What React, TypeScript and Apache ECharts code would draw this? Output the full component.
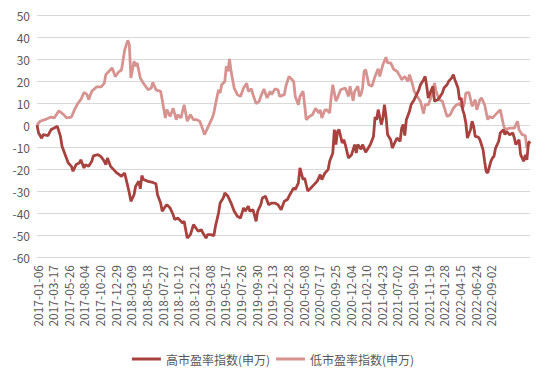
import React, { useEffect, useRef } from "react";
import * as echarts from "echarts";

const tickLabels = [
  "2017-01-06", "2017-03-17", "2017-05-26", "2017-08-04", "2017-10-20", "2017-12-29",
  "2018-03-09", "2018-05-18", "2018-07-27", "2018-10-12", "2018-12-21", "2019-03-08",
  "2019-05-17", "2019-07-26", "2019-09-30", "2019-12-13", "2020-02-28", "2020-05-08",
  "2020-07-17", "2020-09-25", "2020-12-04", "2021-02-10", "2021-04-23", "2021-07-02",
  "2021-09-10", "2021-11-19", "2022-01-28", "2022-04-15", "2022-06-24", "2022-09-02",
];
const weeksAfterLastTick = 25;

const seriesNames = ["高市盈率指数(申万)", "低市盈率指数(申万)"];

// [week index, value]
const highPts: [number, number][] = [
  [0, 0], [1, -3.6], [3, -6], [4, -4.4], [7, -4.8], [9, -2.1], [11, -1.4], [13, -0.6], [14, -2.9], [15, -5.2],
  [16, -9.7], [18, -13.5], [20, -17.3], [22, -18.8], [23, -21], [25, -18], [27, -17.3], [28, -15.8], [30, -19.5], [31, -18],
  [33, -18.8], [35, -16.5], [36, -14], [39, -13.5], [41, -14.5], [43, -16.5], [44, -18], [45, -15], [47, -18.8], [49, -20.3],
  [51, -21.8], [54, -23.3], [56, -21.8], [57, -24.8], [59, -30.9], [60, -34.7], [62, -31.7], [63, -27.9], [65, -25.6], [66, -29],
  [67, -23], [68, -24.8], [71, -25.6], [74, -26.1], [76, -26.7], [77, -31.7], [79, -35.5], [80, -39.2], [82, -37], [83, -36.2],
  [85, -37.7], [87, -40.8], [88, -43], [90, -42.3], [92, -43.8], [93, -44.5], [94, -43.8], [96, -51.4], [98, -49.8], [99, -47.6],
  [100, -45.3], [103, -48.3], [105, -47.6], [106, -49.1], [108, -51.4], [109, -49.8], [111, -49.8], [113, -50.3], [114, -46.1], [116, -40],
  [117, -35.5], [119, -33.2], [120, -30.9], [122, -32.4], [124, -35.5], [126, -39.2], [128, -41.5], [130, -42.3], [132, -37.7], [133, -39.2],
  [135, -36.9], [136, -39.2], [138, -38.5], [140, -43.8], [141, -39.2], [143, -36.2], [144, -33.2], [146, -32.4], [148, -36.2], [150, -35.5],
  [152, -35.5], [154, -36.2], [156, -38.5], [158, -34.7], [160, -33.9], [161, -32.4], [164, -28.6], [165, -29.4], [167, -26.4], [168, -19.5],
  [170, -24.8], [171, -24.1], [173, -30], [175, -28.6], [177, -27.1], [179, -25.6], [181, -22.6], [182, -24.8], [184, -21.8], [186, -20.3],
  [187, -16.5], [189, -12.7], [190, -2.1], [191, -8.9], [192, -2.9], [193, -2.1], [195, -8.2], [196, -6.7], [197, -8.9], [199, -15],
  [201, -13.5], [203, -8.9], [204, -12.7], [205, -8.9], [207, -11], [208, -8.9], [210, -12.4], [211, -11.2], [213, -8.9], [215, -5.2],
  [216, 3.6], [217, 2.4], [218, 7], [220, 0.2], [221, 3.2], [222, 9.2], [223, 3.9], [224, -4.4], [226, -6.7], [227, -10.5],
  [229, -7.4], [230, -5.9], [232, -7.4], [233, -1.4], [234, 0.2], [235, -4.8], [236, 2.4], [238, 6.2], [239, 9.2], [241, 11.5],
  [242, 13], [244, 16], [245, 18.3], [247, 20.6], [248, 22.1], [249, 17.6], [250, 12.3], [252, 16], [253, 17.6], [254, 10.8],
  [256, 11.5], [257, 12.3], [259, 14.5], [260, 16.8], [262, 18.3], [263, 19.8], [265, 21.4], [266, 22.9], [267, 20.6], [269, 16.8],
  [270, 11.5], [271, 12.3], [272, 6.9], [273, 4.7], [274, 0.9], [275, -5.9], [277, -2.1], [278, 1.7], [279, -0.6], [280, -5.2],
  [282, -5.5], [283, -6.7], [285, -11.2], [286, -16.5], [287, -21.1], [288, -21.8], [290, -16.5], [291, -15], [292, -14.2], [293, -10.5],
  [295, -7.4], [296, -3.6], [298, -2.1], [299, -4.4], [300, -2.9], [302, -4.4], [304, -3.6], [305, -5.9], [306, -8.9], [308, -6.7],
  [309, -13.5], [311, -16.5], [312, -13.5], [313, -15.8], [314, -8.2], [315, -7.4],
];

const lowPts: [number, number][] = [
  [0, 0], [2, 1.7], [6, 2.7], [9, 3.6], [11, 3.2], [14, 6.5], [17, 4.7], [19, 3.2], [22, 3.6], [24, 7],
  [26, 9.7], [28, 11.5], [30, 14.8], [32, 13.8], [33, 11.5], [35, 15.3], [38, 17.3], [41, 17.3], [43, 19], [44, 22.9],
  [46, 24.4], [48, 25.9], [50, 22], [52, 24], [54, 25], [56, 34], [58, 38.5], [59, 36.5], [60, 21.4], [62, 29],
  [63, 26.7], [64, 28.2], [66, 21.4], [68, 19], [71, 16], [73, 16.8], [74, 19.4], [76, 16], [79, 15.3], [80, 11.5],
  [82, 3.2], [83, 7], [85, 3.9], [87, 7.6], [89, 2.4], [90, 4.7], [92, 3.2], [94, 9.2], [96, 1.7], [98, 4.7],
  [100, 2.4], [102, 2.4], [104, 1.7], [106, -2.1], [107, -4.4], [108, -2.9], [110, 0.2], [112, 3.2], [113, 5.5], [114, 9.2],
  [116, 16], [117, 14.5], [118, 18.3], [120, 19.8], [121, 26.7], [122, 24.4], [123, 30], [124, 24.4], [125, 20.6], [126, 16.8],
  [128, 13.8], [130, 13], [132, 16.8], [134, 19], [135, 15.3], [137, 16.4], [138, 13.8], [140, 9.7], [142, 10.8], [143, 13],
  [145, 16.4], [147, 12.3], [149, 15.3], [150, 13.8], [152, 16.4], [154, 16], [155, 13], [158, 13.8], [159, 17.6], [161, 22.1],
  [164, 19.8], [165, 13], [167, 9.2], [168, 13], [170, 15.3], [171, 9.2], [172, 2.4], [174, 3.9], [176, 4.7], [178, 7.6],
  [180, 5.5], [181, 6.9], [182, 3.2], [184, 6.9], [185, 6.9], [187, 5.5], [188, 13], [189, 18.3], [191, 10.8], [192, 12.3],
  [194, 16], [197, 16.8], [199, 13], [200, 17.6], [202, 11], [203, 15.3], [205, 17.6], [206, 13], [207, 13.8], [208, 16.8],
  [209, 24.4], [210, 25.2], [212, 18.3], [214, 17.6], [216, 22.1], [218, 25.5], [219, 22.1], [221, 27.4], [223, 30.8], [224, 28.2],
  [226, 28.2], [228, 25.2], [230, 24.4], [232, 22.1], [233, 20.6], [235, 22.1], [237, 19.8], [238, 22.9], [240, 18.3], [241, 15.3],
  [243, 13], [245, 10.8], [247, 5.2], [248, 9.2], [250, 9.2], [252, 13], [254, 19.1], [255, 15.3], [257, 11.5], [259, 10.8],
  [261, 6.2], [262, 3.9], [264, 4.7], [266, 7.6], [268, 9.2], [270, 9.7], [272, 7.6], [273, 9.7], [274, 14.5], [276, 14.8],
  [278, 8.5], [280, 11.5], [281, 6.9], [283, 11.5], [284, 12.3], [286, 9.2], [288, 2.4], [289, 3.9], [291, 3.2], [293, 4.7],
  [294, 5.5], [296, 6.9], [298, 0.2], [299, -2.1], [302, -1.4], [304, -1.4], [305, -1.4], [307, 1.7], [308, -2.1], [310, -4.4],
  [312, -4.8], [313, -10.5], [314, -9], [315, -7.6],
];

function buildCategories(): string[] {
  const out: string[] = [];
  tickLabels.forEach((t, k) => {
    const last = k === tickLabels.length - 1;
    const n = last ? weeksAfterLastTick + 1 : 10;
    const base = Date.UTC(+t.slice(0, 4), +t.slice(5, 7) - 1, +t.slice(8, 10));
    for (let j = 0; j < n; j++) {
      out.push(j === 0 ? t : new Date(base + j * 7 * 86400000).toISOString().slice(0, 10));
    }
  });
  return out;
}

const highColor = "#A8423F";
const lowColor = "#D69390";

export default function App() {
  const ref = useRef<HTMLDivElement>(null);
  useEffect(() => {
    if (!ref.current) return;
    const chart = echarts.init(ref.current, null, { renderer: "svg" });
    const categories = buildCategories();
    const tickSet = new Set(tickLabels);
    const font = "'Noto Sans CJK SC', 'Noto Sans', sans-serif";
    chart.setOption({
      animation: false,
      backgroundColor: "#ffffff",
      textStyle: { fontFamily: font },
      grid: { left: 37, right: 16, top: 15, bottom: 123, containLabel: false, outerBoundsMode: "none" },
      legend: {
        left: "center",
        top: 348,
        icon: "rect",
        itemWidth: 29,
        itemHeight: 3,
        itemGap: 6,
        textStyle: { color: "#595959", fontSize: 12, fontFamily: font },
        data: [
          { name: seriesNames[0], itemStyle: { color: highColor } },
          { name: seriesNames[1], itemStyle: { color: lowColor } },
        ],
      },
      xAxis: {
        type: "category",
        data: categories,
        boundaryGap: false,
        axisLine: { show: false },
        axisTick: { show: false },
        splitLine: { show: false },
        axisLabel: {
          rotate: 90,
          margin: 8,
          color: "#595959",
          fontSize: 12,
          fontFamily: font,
          interval: (idx: number, val: string) => tickSet.has(val),
        },
      },
      yAxis: {
        type: "value",
        min: -60,
        max: 50,
        interval: 10,
        axisLine: { show: false },
        axisTick: { show: false },
        splitLine: { lineStyle: { color: "#d9d9d9", width: 1 } },
        axisLabel: { color: "#595959", fontSize: 12, margin: 7, fontFamily: font },
      },
      series: [
        {
          name: seriesNames[0],
          type: "line",
          data: highPts,
          symbol: "none",
          lineStyle: { color: highColor, width: 2.8 },
          itemStyle: { color: highColor },
          z: 3,
        },
        {
          name: seriesNames[1],
          type: "line",
          data: lowPts,
          symbol: "none",
          lineStyle: { color: lowColor, width: 2.8 },
          itemStyle: { color: lowColor },
          z: 2,
        },
      ],
    });
    return () => chart.dispose();
  }, []);
  return (
    <div
      style={{
        position: "absolute",
        left: 0,
        top: 0,
        width: 546,
        height: 380,
        boxSizing: "border-box",
        border: "1px solid #d9d9d9",
        background: "#fff",
      }}
    >
      <div ref={ref} style={{ position: "absolute", left: -1, top: -1, width: 546, height: 380 }} />
    </div>
  );
}
